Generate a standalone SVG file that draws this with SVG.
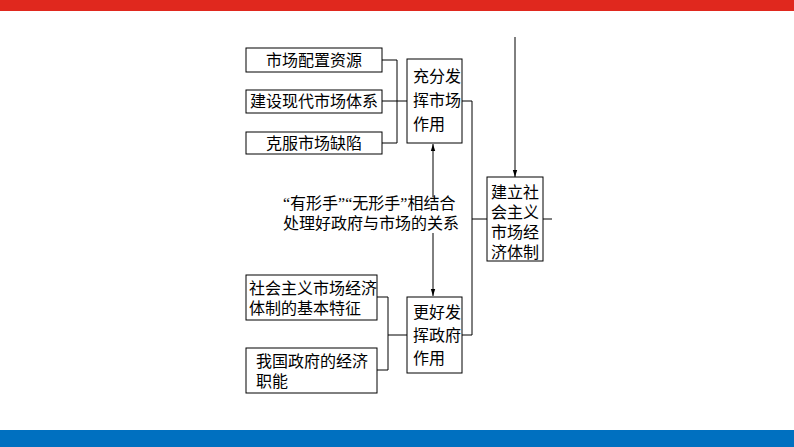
<svg xmlns="http://www.w3.org/2000/svg" width="794" height="447" viewBox="0 0 794 447">
<style>
text{font-family:"Liberation Serif","Noto Sans CJK SC",serif;font-size:16px;fill:#000}
.b{fill:#fff;stroke:#000;stroke-width:1}
.l{fill:none;stroke:#000;stroke-width:1}
</style>
<defs><marker id="a" viewBox="0 0 8 8" refX="8" refY="4" markerWidth="7" markerHeight="7" orient="auto-start-reverse"><path d="M0,1.5 L8,4 L0,6.5z" fill="#000"/></marker></defs>
<rect width="794" height="447" fill="#fff"/>
<rect x="0" y="0" width="794" height="11" fill="#e0281e"/>
<rect x="0" y="430" width="794" height="17" fill="#0070c0"/>
<g id="connectors">
<polyline class="l" points="382,60 397,60 397,143 382,143"/>
<line class="l" x1="382" y1="101" x2="407" y2="101"/>
<polyline class="l" points="462,101 472,101 472,335 462,335"/>
<line class="l" x1="472" y1="219" x2="487" y2="219"/>
<line class="l" x1="543" y1="219" x2="552" y2="219"/>
<line class="l" x1="515" y1="37" x2="515" y2="177" marker-end="url(#a)"/>
<line class="l" x1="433" y1="197" x2="433" y2="144" marker-end="url(#a)"/>
<line class="l" x1="433" y1="233" x2="433" y2="296" marker-end="url(#a)"/>
<polyline class="l" points="377,297 388,297 388,370 377,370"/>
<line class="l" x1="388" y1="335" x2="407" y2="335"/>
</g>
<g id="n1"><rect class="b" x="246" y="48" width="136" height="24"/><text x="314" y="66" text-anchor="middle">市场配置资源</text></g>
<g id="n2"><rect class="b" x="246" y="90" width="136" height="23"/><text x="314" y="107" text-anchor="middle">建设现代市场体系</text></g>
<g id="n3"><rect class="b" x="246" y="132" width="136" height="22"/><text x="314" y="149" text-anchor="middle">克服市场缺陷</text></g>
<g id="n4"><rect class="b" x="407" y="59" width="55" height="84"/><text x="413" y="82">充分发</text><text x="413" y="106">挥市场</text><text x="413" y="130">作用</text></g>
<g id="n5"><rect class="b" x="487" y="177" width="56" height="84"/><text x="491" y="198">建立社</text><text x="491" y="218">会主义</text><text x="491" y="238">市场经</text><text x="491" y="258">济体制</text></g>
<g id="mid"><text x="283" y="209">“有形手”“无形手”相结合</text><text x="283" y="229">处理好政府与市场的关系</text></g>
<g id="n6"><rect class="b" x="246" y="275" width="131" height="45"/><text x="249" y="294">社会主义市场经济</text><text x="249" y="314">体制的基本特征</text></g>
<g id="n7"><rect class="b" x="246" y="348" width="131" height="45"/><text x="256" y="367">我国政府的经济</text><text x="256" y="387">职能</text></g>
<g id="n8"><rect class="b" x="407" y="297" width="55" height="76"/><text x="413" y="318">更好发</text><text x="413" y="341">挥政府</text><text x="413" y="364">作用</text></g>
</svg>
